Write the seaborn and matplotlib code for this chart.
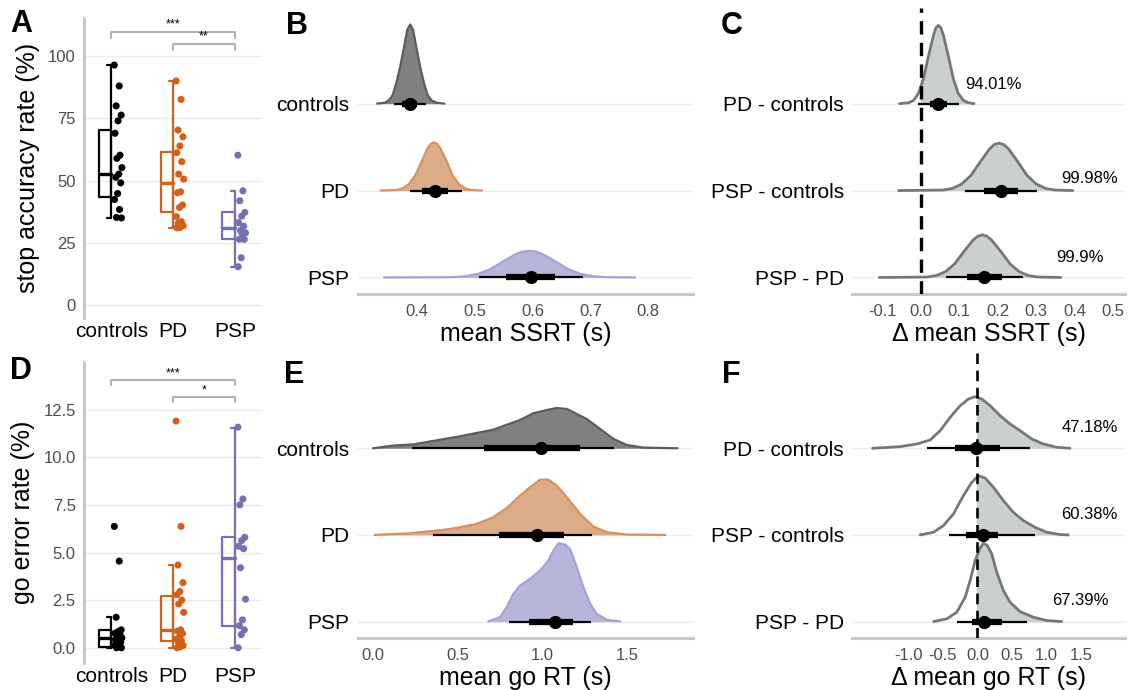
import numpy as np
import pandas as pd
import matplotlib.pyplot as plt
import seaborn as sns
from matplotlib.patches import Rectangle

groups = ['controls', 'PD', 'PSP']
contrasts = ['PD - controls', 'PSP - controls', 'PSP - PD']
group_colors = ['#000000', '#d0601a', '#7570b3']
ridge_fills = ['#808080', '#dcab88', '#b8b5da']
ridge_edges = ['#5c5c5c', '#d59063', '#a5a1d2']
contrast_fill = '#c9d0cd'
contrast_edge = '#777777'

# ---- panel A: stop accuracy rate (%) ----
stop_controls = [96.4, 88, 80, 76.3, 74, 69, 60.2, 58.9, 55.2, 52.6, 51.3, 49.1, 44.8, 42.4, 38.4, 35.2, 35.0]
stop_pd = [90, 82.6, 70.3, 67.6, 63.9, 61.2, 57.6, 52.6, 50.6, 45.5, 45.1, 40.2, 39.2, 35.5, 33.5, 32.8, 31.9, 31.2, 31.0]
stop_psp = [60.2, 45.9, 41.9, 37.2, 35.7, 33.1, 31.7, 29.9, 29.0, 28.5, 26.4, 26.4, 19.0, 15.4]
stop_q1 = [43.4, 37.2, 26.5]
stop_med = [52.5, 48.9, 30.8]
stop_q3 = [70.3, 61.6, 37.2]
stop_lo = [35.0, 31.1, 15.4]
stop_hi = [96.4, 90.1, 45.9]

# ---- panel D: go error rate (%) ----
goerr_controls = [6.37, 4.55, 1.6, 0.94, 0.85, 0.76, 0.68, 0.6, 0.52, 0.45, 0.38, 0.3, 0.2, 0.12, 0.05, 0.0, 0.0]
goerr_pd = [11.9, 6.37, 4.34, 3.42, 2.95, 2.78, 2.5, 2.3, 1.86, 0.94, 0.87, 0.75, 0.56, 0.45, 0.38, 0.3, 0.12, 0.05, 0.0]
goerr_psp = [11.58, 7.81, 7.5, 5.8, 5.63, 5.33, 5.2, 4.2, 2.55, 1.46, 1.16, 0.94, 0.69, 0.0]
goerr_q1 = [0.05, 0.33, 1.16]
goerr_med = [0.5, 0.95, 4.7]
goerr_q3 = [0.94, 2.74, 5.8]
goerr_lo = [0.0, 0.0, 0.0]
goerr_hi = [1.6, 4.37, 11.55]

# ---- panel B: posterior mean SSRT (s), density outlines ----
ssrt_x_controls = [0.332, 0.345, 0.352, 0.359, 0.3655, 0.372, 0.379, 0.384, 0.389, 0.394, 0.399, 0.406, 0.4125, 0.419, 0.426, 0.435, 0.448]
ssrt_h_controls = [0, 0.01, 0.036, 0.10, 0.245, 0.43, 0.67, 0.85, 0.91, 0.85, 0.67, 0.43, 0.245, 0.10, 0.036, 0.01, 0]
ssrt_x_pd = [0.338, 0.365, 0.376, 0.387, 0.398, 0.409, 0.419, 0.4245, 0.430, 0.4355, 0.441, 0.452, 0.462, 0.473, 0.484, 0.495, 0.513]
ssrt_h_pd = [0, 0.006, 0.024, 0.075, 0.177, 0.337, 0.487, 0.536, 0.553, 0.536, 0.487, 0.337, 0.177, 0.075, 0.024, 0.006, 0]
ssrt_x_psp = [0.3435, 0.462, 0.484, 0.506, 0.528, 0.550, 0.572, 0.583, 0.5945, 0.606, 0.617, 0.639, 0.661, 0.683, 0.705, 0.727, 0.777]
ssrt_h_psp = [0, 0.0034, 0.0135, 0.041, 0.098, 0.187, 0.27, 0.297, 0.307, 0.297, 0.27, 0.187, 0.098, 0.041, 0.0135, 0.0034, 0]
# point, 66% lo, 66% hi, 95% lo, 95% hi
ssrt_int = [[0.388, 0.375, 0.400, 0.361, 0.416],
            [0.431, 0.410, 0.4535, 0.388, 0.478],
            [0.597, 0.555, 0.639, 0.508, 0.687]]

# ---- panel C: delta mean SSRT (s) ----
dssrt_x_pdc = [-0.0556, -0.031, -0.018, -0.006, 0.007, 0.020, 0.033, 0.0393, 0.0457, 0.052, 0.0586, 0.0714, 0.0843, 0.097, 0.110, 0.123, 0.1385]
dssrt_h_pdc = [0, 0.01, 0.04, 0.12, 0.29, 0.55, 0.79, 0.873, 0.90, 0.873, 0.79, 0.55, 0.29, 0.12, 0.04, 0.01, 0]
dssrt_x_pspc = [-0.058, 0.0576, 0.082, 0.106, 0.1305, 0.155, 0.179, 0.191, 0.2034, 0.2155, 0.228, 0.252, 0.276, 0.3006, 0.325, 0.349, 0.395]
dssrt_h_pspc = [0, 0.006, 0.024, 0.074, 0.175, 0.333, 0.48, 0.53, 0.546, 0.53, 0.48, 0.333, 0.175, 0.074, 0.024, 0.006, 0]
dssrt_x_psppd = [-0.108, 0.016, 0.040, 0.064, 0.088, 0.112, 0.136, 0.148, 0.160, 0.172, 0.184, 0.208, 0.232, 0.256, 0.280, 0.304, 0.364]
dssrt_h_psppd = [0, 0.005, 0.022, 0.066, 0.157, 0.299, 0.431, 0.475, 0.49, 0.475, 0.431, 0.299, 0.157, 0.066, 0.022, 0.005, 0]
dssrt_int = [[0.045, 0.024, 0.0675, -0.008, 0.098],
             [0.208, 0.165, 0.2535, 0.115, 0.303],
             [0.1645, 0.1195, 0.212, 0.066, 0.265]]
dssrt_labels = ['94.01%', '99.98%', '99.9%']
dssrt_label_x = [0.188, 0.44, 0.414]
dssrt_label_dy = [0.22, 0.135, 0.235]

# ---- panel E: posterior mean go RT (s) ----
gort_x_controls = [0.0, 0.118, 0.237, 0.513, 0.711, 0.869, 0.947, 1.027, 1.086, 1.145, 1.263, 1.342, 1.421, 1.500, 1.599, 1.800]
gort_h_controls = [0, 0.031, 0.045, 0.138, 0.215, 0.327, 0.404, 0.442, 0.465, 0.454, 0.338, 0.223, 0.108, 0.038, 0.008, 0]
gort_x_pd = [0.010, 0.217, 0.415, 0.513, 0.612, 0.711, 0.790, 0.869, 0.928, 0.987, 1.036, 1.086, 1.145, 1.224, 1.303, 1.382, 1.500, 1.727]
gort_h_pd = [0, 0.019, 0.058, 0.088, 0.127, 0.204, 0.311, 0.454, 0.550, 0.638, 0.638, 0.569, 0.435, 0.242, 0.096, 0.031, 0.004, 0]
gort_x_psp = [0.681, 0.750, 0.790, 0.829, 0.869, 0.928, 0.987, 1.036, 1.066, 1.096, 1.135, 1.165, 1.204, 1.243, 1.283, 1.323, 1.382, 1.461]
gort_h_psp = [0, 0.05, 0.165, 0.319, 0.415, 0.492, 0.588, 0.704, 0.819, 0.904, 0.888, 0.838, 0.627, 0.396, 0.204, 0.088, 0.019, 0]
gort_int = [[0.993, 0.657, 1.224, 0.231, 1.427],
            [0.967, 0.744, 1.131, 0.355, 1.293],
            [1.076, 0.924, 1.184, 0.803, 1.289]]

# ---- panel F: delta mean go RT (s) ----
dgort_x_pdc = [-1.513, -1.114, -0.873, -0.682, -0.537, -0.393, -0.249, -0.129, -0.033, 0.063, 0.183, 0.327, 0.471, 0.615, 0.784, 0.951, 1.144, 1.336]
dgort_h_pdc = [0, 0.019, 0.05, 0.096, 0.204, 0.358, 0.492, 0.569, 0.596, 0.569, 0.492, 0.377, 0.281, 0.204, 0.108, 0.05, 0.012, 0]
dgort_x_pspc = [-0.826, -0.634, -0.490, -0.346, -0.202, -0.081, 0.015, 0.111, 0.231, 0.375, 0.519, 0.663, 0.831, 1.000, 1.192, 1.312]
dgort_h_pspc = [0, 0.031, 0.108, 0.242, 0.454, 0.607, 0.684, 0.657, 0.550, 0.396, 0.261, 0.165, 0.088, 0.031, 0.004, 0]
dgort_x_psppd = [-0.634, -0.441, -0.297, -0.177, -0.105, -0.033, 0.039, 0.087, 0.144, 0.207, 0.279, 0.375, 0.471, 0.615, 0.807, 1.000, 1.216]
dgort_h_psppd = [0, 0.031, 0.108, 0.281, 0.473, 0.704, 0.85, 0.904, 0.877, 0.78, 0.569, 0.358, 0.223, 0.115, 0.05, 0.012, 0]
dgort_int = [[-0.023, -0.321, 0.327, -0.729, 0.759],
             [0.087, -0.163, 0.303, -0.408, 0.831],
             [0.101, -0.081, 0.360, -0.297, 0.711]]
dgort_labels = ['47.18%', '60.38%', '67.39%']
dgort_label_x = [1.624, 1.61, 1.49]
dgort_label_dy = [0.235, 0.23, 0.24]

sns.set_theme(style='white')
plt.rcParams['font.family'] = ['Liberation Sans', 'DejaVu Sans']
plt.rcParams['axes.unicode_minus'] = False
plt.rcParams['text.color'] = 'black'
plt.rcParams['axes.labelcolor'] = 'black'

W, H = 1128, 690
fig = plt.figure(figsize=(W / 100, H / 100), dpi=100)


def add_ax(l, t, r, b):
    return fig.add_axes([l / W, 1 - b / H, (r - l) / W, (b - t) / H])


AXIS_GREY = '#c8c8c8'
GRID_GREY = '#ebebeb'


def box_panel(ax, values, q1, med, q3, lo, hi, ylim, yticks, yticklabels, ylabel, brackets):
    rows = []
    for pos, vals in enumerate(values):
        for i, v in enumerate(vals):
            rows.append({'group': groups[pos], 'value': v,
                         'xpos': pos + 0.05 + 0.13 * ((i * 0.618) % 1)})
    df = pd.DataFrame(rows)
    sns.scatterplot(data=df, x='xpos', y='value', hue='group', palette=group_colors,
                    s=26, linewidth=0, legend=False, ax=ax, zorder=3)
    w = 0.2
    for k, c in enumerate(group_colors):
        ax.plot([k - w, k, k, k - w, k - w], [q1[k], q1[k], q3[k], q3[k], q1[k]], color=c, lw=1.6, zorder=2)
        ax.plot([k - w, k], [med[k], med[k]], color=c, lw=2.4, zorder=2)
        ax.plot([k, k], [lo[k], hi[k]], color=c, lw=1.6, zorder=2)
        for v in (lo[k], hi[k]):
            ax.plot([k - 0.06, k], [v, v], color=c, lw=1.6, zorder=2)
    for x0, x1, y, tip, txt, ty in brackets:
        ax.plot([x0, x0, x1, x1], [y - tip, y, y, y - tip], color='#b3b3b3', lw=1.5, clip_on=False)
        ax.text((x0 + x1) / 2, ty, txt, ha='center', va='center', fontsize=9, color='black')
    ax.set_xlim(-0.44, 2.44)
    ax.set_ylim(*ylim)
    ax.set_xticks([0, 1, 2])
    ax.set_xticklabels(groups, fontsize=15, color='black')
    ax.set_yticks(yticks)
    ax.set_yticklabels(yticklabels, fontsize=12, color='#4d4d4d')
    ax.tick_params(axis='x', length=0, pad=3)
    ax.tick_params(axis='y', length=3, width=1, color=AXIS_GREY, pad=3)
    ax.grid(axis='y', color=GRID_GREY, lw=1)
    ax.grid(axis='x', visible=False)
    for s in ['top', 'right', 'bottom']:
        ax.spines[s].set_visible(False)
    ax.spines['left'].set_color(AXIS_GREY)
    ax.spines['left'].set_linewidth(2.2)
    ax.set_xlabel('')
    ax.set_ylabel(ylabel, fontsize=18, labelpad=6)


def ridge_panel(ax, xs, hs, fills, edges, ints, ylabels, xlim, xticks, xticklabels, xlabel,
                contrast=False, texts=None, zero_lw=2.2):
    rows = [2, 1, 0]
    ax.set_xlim(*xlim)
    ax.set_ylim(-0.19, 3.1)
    for k in range(3):
        y0 = rows[k]
        x = np.array(xs[k])
        top = y0 + np.array(hs[k])
        poly = ax.fill_between(x, y0, top, color=fills[k], lw=0, zorder=2)
        if contrast:
            clip = Rectangle((0, -1), 100, 10, transform=ax.transData)
            poly.set_clip_path(clip)
        outline = pd.DataFrame({'x': x, 'y': top})
        sns.lineplot(data=outline, x='x', y='y', sort=False, estimator=None,
                     color=edges[k], lw=2.0 if contrast else 1.6, ax=ax, zorder=3)
        p, l66, h66, l95, h95 = ints[k]
        ax.plot([l95, h95], [y0, y0], color='black', lw=1.6, solid_capstyle='butt', zorder=5)
        ax.plot([l66, h66], [y0, y0], color='black', lw=4.5, solid_capstyle='butt', zorder=5)
        ax.plot([p], [y0], marker='o', ms=8.5, color='black', zorder=6)
    if contrast:
        ax.axvline(0, color='black', lw=zero_lw, dashes=(4, 2.5), zorder=4)
        labels, lx, ldy = texts
        for k in range(3):
            ax.text(lx[k], rows[k] + ldy[k], labels[k], ha='center', va='center',
                    fontsize=12, color='black')
    ax.set_yticks(rows)
    ax.set_yticklabels(ylabels, fontsize=15, color='black')
    ax.set_xticks(xticks)
    ax.set_xticklabels(xticklabels, fontsize=12, color='#4d4d4d')
    ax.tick_params(axis='y', length=0, pad=6)
    ax.tick_params(axis='x', length=3, width=1, color=AXIS_GREY, pad=4)
    ax.grid(axis='y', color=GRID_GREY, lw=1, zorder=0)
    ax.grid(axis='x', visible=False)
    ax.set_axisbelow(True)
    for s in ['top', 'right', 'left']:
        ax.spines[s].set_visible(False)
    ax.spines['bottom'].set_color(AXIS_GREY)
    ax.spines['bottom'].set_linewidth(2.2)
    ax.set_ylabel('')
    ax.set_xlabel(xlabel, fontsize=18, labelpad=2)


axA = add_ax(84, 18, 262, 318)
box_panel(axA, [stop_controls, stop_pd, stop_psp], stop_q1, stop_med, stop_q3, stop_lo, stop_hi,
          (-5.2, 115.3), [0, 25, 50, 75, 100], ['0', '25', '50', '75', '100'],
          'stop accuracy rate (%)',
          [(0, 2, 109.6, 2.2, '***', 112.6), (1, 2, 104.8, 2.2, '**', 107.8)])

axD = add_ax(84, 362, 262, 663)
box_panel(axD, [goerr_controls, goerr_pd, goerr_psp], goerr_q1, goerr_med, goerr_q3, goerr_lo, goerr_hi,
          (-0.8, 15.0), [0, 2.5, 5, 7.5, 10, 12.5], ['0.0', '2.5', '5.0', '7.5', '10.0', '12.5'],
          'go error rate (%)',
          [(0, 2, 14.03, 0.25, '***', 14.4), (1, 2, 13.14, 0.25, '*', 13.5)])

axB = add_ax(358, 8, 693, 294)
ridge_panel(axB, [ssrt_x_controls, ssrt_x_pd, ssrt_x_psp], [ssrt_h_controls, ssrt_h_pd, ssrt_h_psp],
            ridge_fills, ridge_edges, ssrt_int, groups, (0.299, 0.877),
            [0.4, 0.5, 0.6, 0.7, 0.8], ['0.4', '0.5', '0.6', '0.7', '0.8'], 'mean SSRT (s)')

axC = add_ax(852, 8, 1125, 294)
ridge_panel(axC, [dssrt_x_pdc, dssrt_x_pspc, dssrt_x_psppd], [dssrt_h_pdc, dssrt_h_pspc, dssrt_h_psppd],
            [contrast_fill] * 3, [contrast_edge] * 3, dssrt_int, contrasts, (-0.179, 0.531),
            [-0.1, 0, 0.1, 0.2, 0.3, 0.4, 0.5], ['-0.1', '0.0', '0.1', '0.2', '0.3', '0.4', '0.5'],
            'Δ mean SSRT (s)', contrast=True,
            texts=(dssrt_labels, dssrt_label_x, dssrt_label_dy), zero_lw=2.4)

axE = add_ax(358, 353, 693, 638)
ridge_panel(axE, [gort_x_controls, gort_x_pd, gort_x_psp], [gort_h_controls, gort_h_pd, gort_h_psp],
            ridge_fills, ridge_edges, gort_int, groups, (-0.089, 1.891),
            [0, 0.5, 1.0, 1.5], ['0.0', '0.5', '1.0', '1.5'], 'mean go RT (s)')

axF = add_ax(852, 353, 1125, 638)
ridge_panel(axF, [dgort_x_pdc, dgort_x_pspc, dgort_x_psppd], [dgort_h_pdc, dgort_h_pspc, dgort_h_psppd],
            [contrast_fill] * 3, [contrast_edge] * 3, dgort_int, contrasts, (-1.81, 2.13),
            [-1.0, -0.5, 0, 0.5, 1.0, 1.5], ['-1.0', '-0.5', '0.0', '0.5', '1.0', '1.5'],
            'Δ mean go RT (s)', contrast=True,
            texts=(dgort_labels, dgort_label_x, dgort_label_dy), zero_lw=1.9)

for letter, px, py in [('A', 10, 9), ('B', 286, 11), ('C', 721, 11),
                       ('D', 10, 356), ('E', 284, 360), ('F', 722, 360)]:
    fig.text(px / W, 1 - py / H, letter, fontsize=22, fontweight='bold', ha='left', va='top',
             color='black')

fig.savefig('out.png', dpi=100)
